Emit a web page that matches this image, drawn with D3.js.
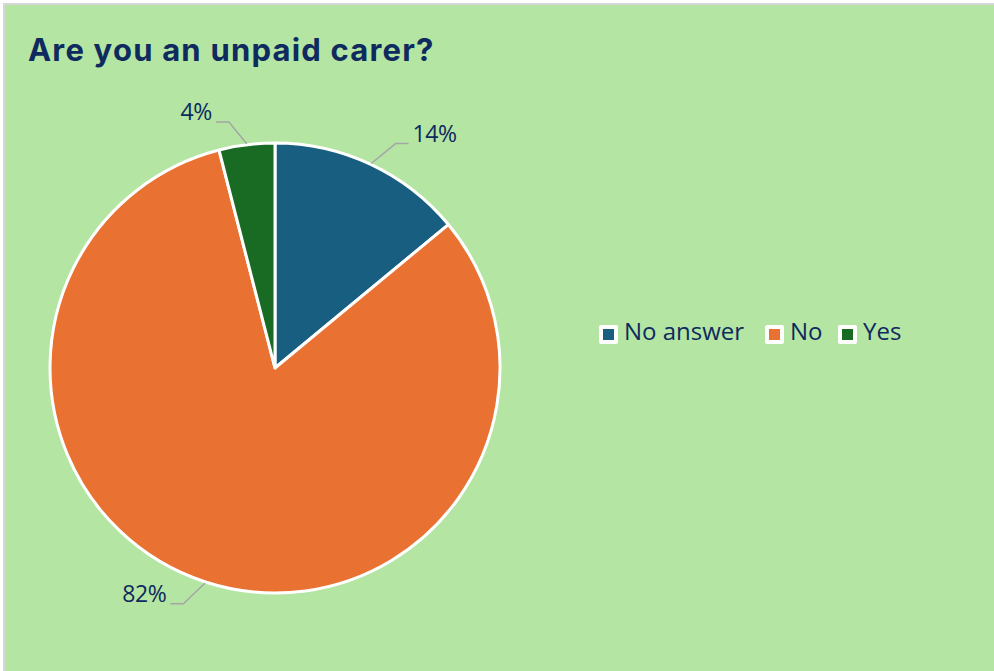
<!DOCTYPE html>
<html>
<head>
<meta charset="utf-8">
<script src="https://cdn.jsdelivr.net/npm/d3@7"></script>
<style>
  html, body { margin: 0; padding: 0; background: #ffffff; }
  svg { display: block; }
</style>
</head>
<body>
<svg id="chart" width="994" height="671"></svg>
<script>
// Survey answers, in the order they run clockwise from 12 o'clock
const categories = ["No answer", "No", "Yes"];
const percentages = [14, 82, 4];
const colors = ["#175e81", "#e97132", "#196b24"];
const titleText = "Are you an unpaid carer?";

const svg = d3.select("#chart");
const W = 994, H = 671;

// Panel background with a thin grey frame on the top and left
svg.append("rect")
  .attr("x", 4).attr("y", 4)
  .attr("width", W + 10).attr("height", H + 10)
  .attr("fill", "#b4e5a3")
  .attr("stroke", "#d6d6d6")
  .attr("stroke-width", 2);

svg.append("text")
  .attr("x", 28).attr("y", 61)
  .attr("font-family", "Inter, 'Open Sans', sans-serif")
  .attr("font-weight", 700)
  .attr("font-size", 31)
  .attr("letter-spacing", 1.2)
  .attr("fill", "#0e2a5e")
  .text(titleText);

const cx = 275, cy = 368, r = 225;
const data = categories.map((c, i) => ({ name: c, value: percentages[i], color: colors[i] }));

const pie = d3.pie().value(d => d.value).sort(null);
const arcs = pie(data);
const arc = d3.arc().innerRadius(0).outerRadius(r);

const g = svg.append("g").attr("transform", `translate(${cx},${cy})`);

g.selectAll("path.slice")
  .data(arcs)
  .join("path")
  .attr("class", "slice")
  .attr("d", arc)
  .attr("fill", d => d.data.color)
  .attr("stroke", "#ffffff")
  .attr("stroke-width", 3)
  .attr("stroke-linejoin", "round");

// Data labels with elbow leader lines
const fmt = d => d3.format(".0f")(d) + "%";
arcs.forEach(a => {
  const mid = (a.startAngle + a.endAngle) / 2;
  const sx = Math.sin(mid), sy = -Math.cos(mid);
  const side = sx >= 0 ? 1 : -1;
  const p0 = [sx * (r + 1), sy * (r + 1)];
  const p1 = [sx * (r + 23) + side * 15, sy * (r + 23)];
  const p2 = [p1[0] + side * 13, p1[1]];
  g.append("polyline")
    .attr("points", [p0, p1, p2].map(p => p.join(",")).join(" "))
    .attr("fill", "none")
    .attr("stroke", "#a6a6a6")
    .attr("stroke-width", 1.5);
  g.append("text")
    .attr("x", p2[0] + side * 4)
    .attr("y", p2[1] - 8)
    .attr("text-anchor", side > 0 ? "start" : "end")
    .attr("dominant-baseline", "middle")
    .attr("font-family", "'Open Sans', sans-serif")
    .attr("font-size", 23)
    .attr("letter-spacing", -0.4)
    .attr("fill", "#0e2a5e")
    .text(fmt(a.data.value));
});

// Legend
const legend = svg.append("g").attr("transform", "translate(599,325)");
const lx = [0, 166, 239];
data.forEach((d, i) => {
  const item = legend.append("g").attr("transform", `translate(${lx[i]},0)`);
  item.append("rect")
    .attr("x", 0).attr("y", 0).attr("width", 19).attr("height", 19)
    .attr("rx", 2)
    .attr("fill", "#ffffff");
  item.append("rect")
    .attr("x", 4).attr("y", 4).attr("width", 11).attr("height", 11)
    .attr("fill", d.color);
  item.append("text")
    .attr("x", 25).attr("y", 9)
    .attr("dominant-baseline", "middle")
    .attr("font-family", "'Open Sans', sans-serif")
    .attr("font-size", 24)
    .attr("fill", "#0e2a5e")
    .text(d.name);
});
</script>
</body>
</html>
